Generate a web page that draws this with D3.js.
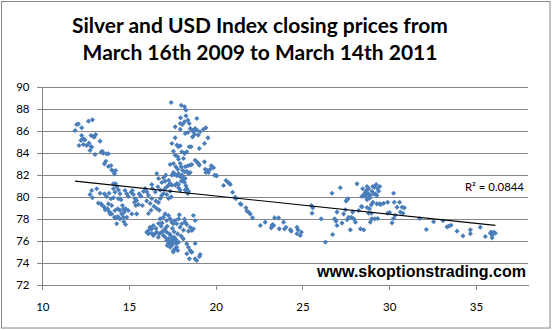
<!DOCTYPE html>
<html>
<head>
<meta charset="utf-8">
<script src="https://cdn.jsdelivr.net/npm/d3@7"></script>
<style>
  html, body { margin: 0; padding: 0; background: #fff; }
  svg { display: block; }
</style>
</head>
<body>
<svg id="chart" width="552" height="330"></svg>
<script>
// ---- Data: daily closes, [silver price (USD/oz), US Dollar Index] ----
const titleLines = ["Silver and USD Index closing prices from", "March 16th 2009 to March 14th 2011"];
const xTickValues = [10, 15, 20, 25, 30, 35];
const yTickValues = [72, 74, 76, 78, 80, 82, 84, 86, 88, 90];
const xDomain = [10, 38];
const yDomain = [72, 90];

// linear trend fitted to the closes (USD index = slope * silver + intercept)
const trendSlope = -0.166;
const trendIntercept = 83.37;
const rSquaredText = "R\u00B2 = 0.0844";
const siteText = "www.skoptionstrading.com";

const closesSilverLow = [
  [11.89,86.0],[11.98,86.55],[12.08,86.6],[12.27,86.24],[12.66,86.85],[12.89,86.97],[12.27,85.55],[12.37,85.24],
  [12.23,85.1],[12.46,85.15],[12.81,85.55],[12.94,85.45],[13.08,85.64],[13.0,85.4],[12.12,84.64],[12.37,84.73],
  [12.56,84.64],[12.69,84.85],[12.81,84.55],[12.75,84.18],[12.85,84.48],[13.04,83.82],[13.33,85.03],[13.39,84.03],
  [13.46,84.12],[13.52,83.94],[13.71,83.88],[13.81,83.88],[13.66,83.21],[13.58,82.97],[13.81,82.73],[13.96,82.82],
  [14.0,82.42],[14.1,82.3],[14.23,82.36],[14.16,82.06],[14.1,81.15],[14.23,81.15],[14.29,80.9],[14.1,80.7],
  [12.85,80.55],[12.75,80.18],[12.89,79.88],[13.14,80.7],[13.33,80.3],[13.23,79.4],[13.39,79.33],[13.46,79.18],
  [13.58,79.03],[13.62,78.79],[13.77,78.88],[13.85,78.64],[13.91,78.42],[14.0,78.42],[14.16,78.12],[14.23,78.06],
  [14.35,78.18],[14.29,77.52],[13.58,80.24],[13.71,80.0],[13.85,80.3],[13.96,79.79],[14.1,79.88],[14.19,80.39],
  [14.39,80.6],[14.39,79.79],[14.48,80.24],[14.54,79.7],[14.62,79.18],[14.68,78.88],[14.73,78.58],[14.81,78.88],
  [14.77,80.55],[14.87,80.24],[14.96,80.0],[15.12,80.39],[15.19,80.55],[15.25,80.18],[15.35,79.79],[15.31,79.48],
  [15.39,79.18],[15.44,79.64],[15.54,79.27],[15.58,80.24],[15.69,80.03],[15.83,80.45],[15.77,79.18],[14.48,78.73],
  [14.58,78.42],[14.68,78.12],[14.19,78.73],[14.35,78.88],[13.81,79.33],[14.0,79.18],[14.48,77.97],[14.87,78.12],
  [14.96,78.73],[15.16,78.42],[15.44,78.42],[14.7,77.7],[14.8,77.45]
];

const closesSilverMidHigh = [
  [17.43,88.55],[18.01,88.3],[18.2,88.15],[18.28,87.85],[17.97,87.15],[18.28,87.33],[18.39,86.94],[18.91,87.09],
  [17.66,86.33],[17.95,86.64],[18.08,86.55],[18.2,86.79],[18.47,86.64],[18.53,86.18],[18.62,86.03],[18.81,86.18],
  [18.72,85.88],[18.91,86.03],[19.1,85.88],[19.29,86.12],[19.43,86.24],[18.24,85.73],[18.39,85.82],[17.95,86.12],
  [18.66,85.42],[18.78,85.64],[18.99,85.58],[19.55,85.33],[19.35,84.82],[17.66,85.33],[17.47,84.82],[17.76,84.67],
  [17.85,84.52],[17.95,84.61],[18.47,84.52],[18.58,84.52],[19.05,84.36],[17.56,84.12],[18.05,84.06],[18.2,83.91],
  [18.33,84.06],[17.66,83.76],[17.81,83.61],[17.85,83.39],[18.14,83.45],[18.81,83.3],[18.91,83.15],[19.0,83.0],
  [19.05,82.85],[19.35,83.15],[17.56,83.0],[17.37,82.91],[17.95,83.0],[18.01,82.7],[18.24,82.7],[18.39,82.79],
  [18.53,82.85],[18.62,82.91],[19.74,82.79],[19.87,82.61],[19.68,82.48],[19.49,82.39],[19.43,82.18],[19.58,82.18],
  [19.93,81.94],[20.06,81.88],[19.39,82.48],[17.7,82.7],[17.81,82.48],[18.08,82.39],[18.2,82.24],[18.33,82.3],
  [18.43,82.09],[18.53,82.18],[17.56,82.18],[17.47,81.94],[17.62,82.0],[17.76,81.88],[17.85,82.09],[17.95,81.79],
  [18.05,81.94],[18.14,81.7],[18.24,81.64],[18.01,81.39],[18.08,81.48],[18.2,81.27],[17.85,81.09],[17.76,81.18],
  [17.66,81.03],[18.28,80.97],[18.33,80.73],[18.43,80.48],[18.24,80.58],[18.39,80.27],[17.95,80.58],[17.85,80.79],
  [17.47,81.03],[17.37,81.18],[17.12,81.94],[16.99,81.7],[16.6,82.09],[16.7,81.64],[16.89,81.27],[17.08,81.39],
  [17.28,81.48],[17.31,81.06],[17.18,80.88],[17.05,80.67],[16.8,80.58],[16.66,80.88],[16.35,80.73],[16.31,81.09],
  [16.51,80.42],[16.99,80.27],[17.18,80.18],[17.37,80.48],[17.43,79.97],[16.8,79.82],[16.89,80.12],[17.28,79.82],
  [16.22,79.36],[16.7,79.45],[16.12,80.12],[16.03,80.42],[15.93,80.73],[16.31,79.82],[16.6,78.91],[16.74,78.76],
  [16.02,79.6],[16.12,78.45],[16.27,78.75],[16.44,79.1],[16.55,79.6]
];

const closesSilverMidLow = [
  [16.02,76.76],[16.12,76.91],[16.21,77.21],[16.31,77.06],[16.4,77.36],[16.12,76.61],[16.31,76.67],[16.4,76.45],
  [16.5,76.61],[16.6,76.76],[16.69,76.3],[16.75,76.61],[16.88,76.76],[16.98,76.45],[17.08,76.3],[17.17,76.0],
  [17.27,76.15],[17.27,75.7],[17.37,75.85],[17.37,75.39],[17.46,75.55],[17.52,76.0],[17.56,75.09],[17.65,75.24],
  [17.71,75.7],[17.75,75.39],[17.85,75.85],[17.6,76.3],[17.17,76.76],[17.08,77.06],[17.33,76.61],[17.4,76.45],
  [16.79,77.97],[16.98,78.12],[17.08,78.42],[17.17,77.82],[17.27,78.27],[17.37,77.97],[17.46,77.67],[17.56,77.52],
  [17.65,77.82],[17.75,77.52],[17.85,77.97],[17.94,77.21],[18.04,77.52],[18.23,77.67],[17.9,78.33],[18.71,78.27],
  [18.52,77.21],[18.62,76.91],[18.71,77.06],[18.81,77.82],[18.33,75.7],[18.42,75.39],[18.52,75.09],[18.62,74.94],
  [18.33,74.79],[18.48,74.33],[18.81,74.33],[18.9,74.18],[19.06,74.55],[18.13,76.15],
  [16.55,77.1],[16.85,77.3],[17.0,76.9],[17.2,77.3],[17.5,77.1],[17.6,76.8],[17.8,76.6],[17.45,76.2],
  [17.3,75.9],[17.6,75.95],[17.7,76.1],[17.5,75.7],[17.2,75.55],[17.55,74.95],[17.8,75.1],[16.9,77.6],
  [16.7,77.55],[18.0,76.4],[18.2,77.94],[18.33,77.45],[18.43,76.85],[18.14,76.94],[18.81,75.73],[19.1,74.73],
  [18.58,74.97]
];

const closesSilverHigh = [
  [20.03,81.9],[20.45,81.0],[20.59,81.45],[20.7,81.3],[20.78,81.21],[20.84,81.09],[20.97,80.39],[21.12,79.94],
  [21.16,79.79],[21.41,79.33],[21.47,79.27],[21.74,78.97],[21.8,78.67],[21.89,78.58],[21.99,78.42],[22.12,78.06],
  [22.57,77.36],[22.85,77.67],[23.24,77.36],[23.2,77.15],[23.34,77.36],[23.28,77.45],[23.39,78.06],[23.62,78.06],
  [23.66,77.06],[23.91,77.67],[23.97,77.06],[24.05,77.21],[24.3,76.97],[24.35,76.85],[24.68,77.21],[24.74,76.97],
  [24.68,76.61],[24.87,76.45],[24.93,76.76],[25.51,79.18],[25.59,78.97],[25.55,78.48],[26.08,77.97],[26.32,75.85],
  [26.7,80.3],[26.74,76.55],[26.85,77.97],[26.93,77.76],[26.99,78.58],[26.99,77.36],[27.18,80.79],[27.28,77.58],
  [27.37,78.42],[27.47,78.79],[27.51,79.58],[27.57,79.7],[27.62,79.79],[27.57,77.88],[27.66,78.12],[27.76,76.97],
  [27.82,78.12],[27.89,78.58],[27.95,77.97],[28.05,77.67],[28.14,81.15],[28.24,78.73],[28.34,77.06],[28.39,79.09],
  [28.43,80.0],[28.47,80.7],[28.53,76.97],[28.59,80.18],[28.62,80.39],[28.72,80.91],[28.72,79.7],[28.82,80.09],
  [28.86,78.88],[28.91,77.67],[28.97,78.48],[29.05,80.91],[29.1,80.24],[29.16,77.97]
];

const closesSilverTop = [
  [29.25,81.09],[29.33,80.7],[29.39,80.48],[29.2,80.24],[29.29,80.09],[29.14,80.85],[29.45,80.91],[29.0,80.48],
  [28.91,80.09],[28.81,80.24],[29.29,79.33],[29.45,79.33],[29.52,79.27],[29.68,79.39],[29.91,79.48],[30.25,80.3],
  [30.29,79.48],[30.45,79.03],[30.6,79.48],[30.74,79.03],[30.87,78.97],[30.64,78.58],[30.79,78.48],[29.91,78.48],
  [30.02,78.55],[30.25,78.0],[30.35,78.3],[30.16,77.6],[31.75,78.0],[32.14,77.0],[32.56,77.7],[33.1,77.79],
  [33.33,77.24],[33.43,77.3],[33.56,77.39],[33.91,76.85],[34.25,76.42],[34.68,76.97],[34.68,76.61],[35.25,77.21],
  [35.54,76.36],[35.83,76.67],[35.93,76.45],[35.93,76.24],[36.02,76.76],[36.12,76.67],[35.87,76.76],
  [28.52,80.15],[28.62,80.0],[28.72,80.3],[28.81,80.7],[28.87,79.85],[28.68,80.55],[28.97,79.24],[28.72,79.0],
  [28.43,79.06],[29.0,77.97],[28.81,78.48],[29.06,79.48],[29.33,78.0]
];

const closes = [].concat(closesSilverLow, closesSilverMidHigh, closesSilverMidLow, closesSilverHigh, closesSilverTop);

// ---- Layout ----
const W = 552, H = 330;
const plot = { left: 42.3, right: 528, top: 86.5, bottom: 284.5 };
const gridColor = "#868686";
const markerColor = "#4A7EBB";
const labelFont = "Lato, 'Open Sans', sans-serif";

const svg = d3.select("#chart");

const x = d3.scaleLinear().domain(xDomain).range([plot.left, plot.right]);
const y = d3.scaleLinear().domain(yDomain).range([plot.bottom, plot.top]);

// chart border
svg.append("rect")
  .attr("x", 1.5).attr("y", 1.5)
  .attr("width", W - 3.5).attr("height", H - 3.5)
  .attr("fill", "#fff").attr("stroke", gridColor).attr("stroke-width", 1);

function fitWidth(sel, target) {
  const w = sel.node().getComputedTextLength();
  const fs = parseFloat(sel.attr("font-size"));
  const nfs = fs * target / w;
  sel.attr("font-size", nfs);
  return nfs;
}

// title
const t1 = svg.append("text")
  .attr("x", 260).attr("y", 33)
  .attr("text-anchor", "middle")
  .attr("font-family", labelFont).attr("font-weight", "bold")
  .attr("font-size", 20).attr("fill", "#000")
  .text(titleLines[0]);
const titleSize = fitWidth(t1, 376);
svg.append("text")
  .attr("x", 260).attr("y", 60)
  .attr("text-anchor", "middle")
  .attr("font-family", labelFont).attr("font-weight", "bold")
  .attr("font-size", titleSize).attr("fill", "#000")
  .text(titleLines[1]);

// horizontal gridlines + y axis
const yAxis = svg.append("g")
  .attr("transform", `translate(${plot.left},0)`)
  .call(d3.axisLeft(y).tickValues(yTickValues).tickSizeInner(-(plot.right - plot.left)).tickSizeOuter(0).tickPadding(12));
yAxis.select(".domain").remove();
yAxis.selectAll(".tick line")
  .attr("stroke", gridColor).attr("x1", -5).attr("shape-rendering", "crispEdges");
yAxis.selectAll(".tick text")
  .attr("font-family", labelFont).attr("font-size", 11.5).attr("fill", "#000")
  .attr("x", -12.8);

// y axis line
svg.append("line")
  .attr("x1", plot.left).attr("x2", plot.left)
  .attr("y1", plot.top).attr("y2", plot.bottom)
  .attr("stroke", gridColor).attr("shape-rendering", "crispEdges");

// x axis
const xAxis = svg.append("g")
  .attr("transform", `translate(0,${plot.bottom})`)
  .call(d3.axisBottom(x).tickValues(xTickValues).tickSizeInner(5).tickSizeOuter(0).tickPadding(13));
xAxis.select(".domain").attr("stroke", gridColor).attr("shape-rendering", "crispEdges");
xAxis.selectAll(".tick line").attr("stroke", gridColor).attr("shape-rendering", "crispEdges");
xAxis.selectAll(".tick text")
  .attr("font-family", labelFont).attr("font-size", 11.5).attr("fill", "#000");

// markers
const diamond = d3.symbol().type(d3.symbolSquare).size(13);
svg.append("g")
  .selectAll("path")
  .data(closes)
  .join("path")
  .attr("d", diamond)
  .attr("transform", d => `translate(${x(d[0])},${y(d[1])}) rotate(45)`)
  .attr("fill", markerColor);

// linear trendline across the silver range
const xExtent = d3.extent(closes, d => d[0]);
svg.append("line")
  .attr("x1", x(xExtent[0])).attr("y1", y(trendSlope * xExtent[0] + trendIntercept))
  .attr("x2", x(xExtent[1])).attr("y2", y(trendSlope * xExtent[1] + trendIntercept))
  .attr("stroke", "#000").attr("stroke-width", 1.1);

// R squared label
const r2 = svg.append("text")
  .attr("x", 465).attr("y", 190.5)
  .attr("font-family", labelFont).attr("font-size", 12).attr("fill", "#000")
  .text(rSquaredText);
fitWidth(r2, 59);

// site label
const site = svg.append("text")
  .attr("x", 526).attr("y", 276.5)
  .attr("text-anchor", "end")
  .attr("font-family", "'Liberation Sans', Arial, sans-serif").attr("font-weight", "bold")
  .attr("font-size", 16).attr("fill", "#000")
  .text(siteText);
fitWidth(site, 209);
</script>
</body>
</html>
